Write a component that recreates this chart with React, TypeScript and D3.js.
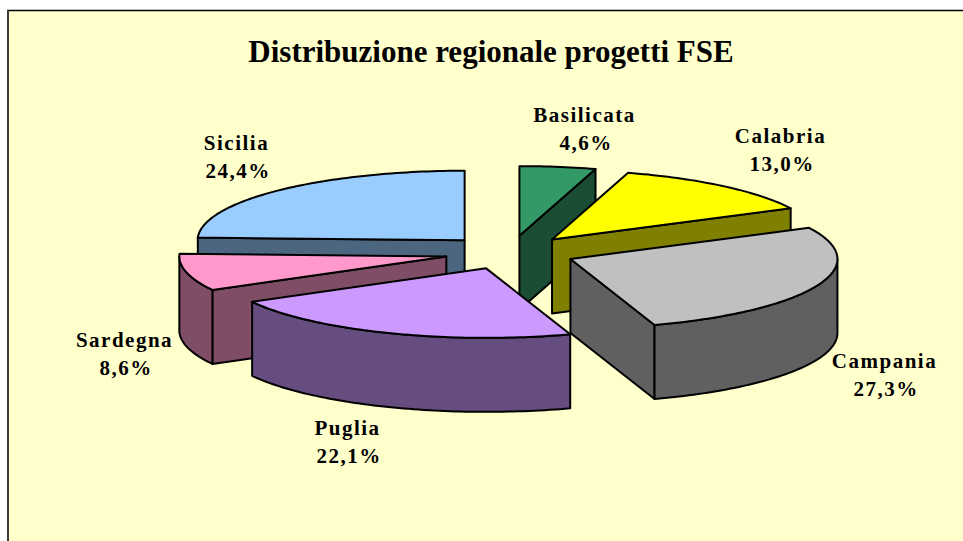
import React from "react";
import * as d3 from "d3";

const regions = ["Basilicata", "Calabria", "Campania", "Puglia", "Sardegna", "Sicilia"];
const shares = [4.6, 13.0, 27.3, 22.1, 8.6, 24.4];
const topColors = ["#339966", "#ffff00", "#c0c0c0", "#cc99ff", "#ff99cc", "#99ccff"];
const sideColors = ["#1a4d33", "#808000", "#606060", "#664d80", "#804d66", "#4d6680"];
const labelX = [584.5, 780.5, 884.5, 347.5, 124.5, 236.5];
const labelY = [122, 143, 368, 435, 347, 150];

const title = "Distribuzione regionale progetti FSE";

const W = 963;
const H = 541;
const CX = 510;
const CY = 252.5;
const RX = 267;
const RY = 69.5;
const DEPTH = 74;
const EXPLODE = 0.245;

const sx = d3.scaleLinear().domain([-1, 1]).range([CX - RX, CX + RX]);
const sy = d3.scaleLinear().domain([-1, 1]).range([CY - RY, CY + RY]);
type P = [number, number];
const line = d3.line<P>();

const serif = "'Liberation Serif', 'Times New Roman', serif";

function arcPts(a0: number, a1: number, ox: number, oy: number, dz = 0): P[] {
  const n = Math.max(2, Math.ceil(Math.abs(a1 - a0) / 0.02));
  return d3.range(n + 1).map((i) => {
    const a = a0 + ((a1 - a0) * i) / n;
    return [sx(Math.sin(a) + ox), sy(-Math.cos(a) + oy) + dz] as P;
  });
}

export default function App() {
  const slices = d3.pie<number>().sort(null).startAngle(0).endAngle(2 * Math.PI)(shares);
  const items = slices
    .map((s) => {
      const mid = (s.startAngle + s.endAngle) / 2;
      return {
        i: s.index,
        a0: s.startAngle,
        a1: s.endAngle,
        ox: EXPLODE * Math.sin(mid),
        oy: -EXPLODE * Math.cos(mid),
      };
    })
    .sort((p, q) => p.oy - q.oy);

  return (
    <svg
      width={W}
      height={H}
      viewBox={`0 0 ${W} ${H}`}
      style={{ position: "absolute", left: 0, top: 0, display: "block", background: "#fff" }}
    >
      <rect x={8} y={11} width={W - 8} height={H - 11} fill="#ffffcc" />
      <line x1={7} x2={W} y1={10.5} y2={10.5} stroke="#000" strokeWidth={1.4} />
      <line x1={8} x2={8} y1={10} y2={H} stroke="#3a3a3a" strokeWidth={2} />

      <text
        x={491}
        y={61.5}
        textAnchor="middle"
        fontFamily={serif}
        fontWeight="bold"
        fontSize={31}
        fill="#000"
      >
        {title}
      </text>

      {items.map((d) => {
        const apex: P = [sx(d.ox), sy(d.oy)];
        const down = (p: P): P => [p[0], p[1] + DEPTH];
        const wall = (a: number) => {
          const rim: P = [sx(Math.sin(a) + d.ox), sy(-Math.cos(a) + d.oy)];
          return line([apex, rim, down(rim), down(apex)]) + "Z";
        };
        const showStart = Math.sin(d.a0) < -1e-6;
        const showEnd = Math.sin(d.a1) > 1e-6;
        const f0 = Math.max(d.a0, Math.PI / 2);
        const f1 = Math.min(d.a1, (3 * Math.PI) / 2);
        const outer =
          f1 > f0
            ? line([
                ...arcPts(f0, f1, d.ox, d.oy),
                ...arcPts(f1, f0, d.ox, d.oy, DEPTH),
              ]) + "Z"
            : null;
        const top = line([apex, ...arcPts(d.a0, d.a1, d.ox, d.oy)]) + "Z";
        const common = { stroke: "#000", strokeWidth: 2, strokeLinejoin: "round" as const };
        return (
          <g key={regions[d.i]}>
            {showStart && <path d={wall(d.a0)} fill={sideColors[d.i]} {...common} />}
            {showEnd && <path d={wall(d.a1)} fill={sideColors[d.i]} {...common} />}
            {outer && <path d={outer} fill={sideColors[d.i]} {...common} />}
            <path d={top} fill={topColors[d.i]} {...common} />
          </g>
        );
      })}

      {regions.map((r, i) => (
        <text
          key={r}
          textAnchor="middle"
          fontFamily={serif}
          fontWeight="bold"
          fontSize={21}
          fill="#000"
          style={{ letterSpacing: "1.5px" }}
        >
          <tspan x={labelX[i]} y={labelY[i]}>{r}</tspan>
          <tspan x={labelX[i] + 1.5} y={labelY[i] + 27.5}>{shares[i].toFixed(1).replace(".", ",")}%</tspan>
        </text>
      ))}
    </svg>
  );
}
